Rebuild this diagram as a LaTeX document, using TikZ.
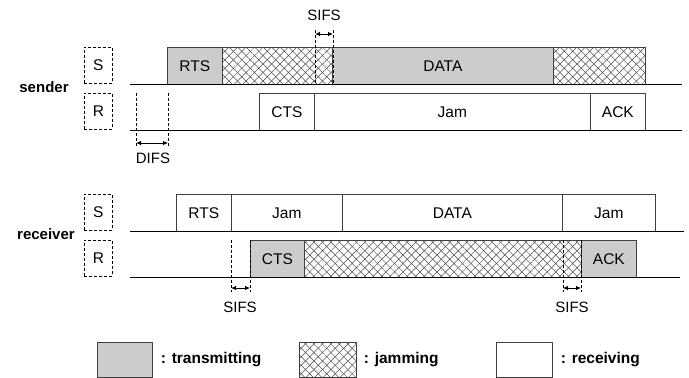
\documentclass[tikz,border=0pt]{standalone}
\usepackage{fontspec}
\setmainfont{Liberation Sans}
\usetikzlibrary{positioning, arrows.meta, patterns.meta}

\tikzset{
  slot/.style={rectangle, draw=black!75, line width=0.7pt, inner sep=0pt,
    minimum height=37pt, anchor=north west, font=\fontsize{15.5}{18}\selectfont},
  txslot/.style={slot, fill=black!20},
  rxslot/.style={slot, fill=white},
  jamslot/.style={slot,
    pattern={Lines[angle=45,distance=6pt,line width=0.5pt]}, pattern color=black!70,
    postaction={pattern={Lines[angle=-45,distance=6pt,line width=0.5pt]}, pattern color=black!70}},
  stationtag/.style={rectangle, draw, densely dashed, line width=0.8pt, inner sep=0pt,
    minimum width=28pt, minimum height=36pt, anchor=north west, font=\fontsize{15.5}{18}\selectfont},
  rolelabel/.style={font=\fontsize{15}{18}\selectfont\bfseries},
  gaplabel/.style={font=\fontsize{15}{17}\selectfont, inner sep=0pt},
  gapline/.style={densely dashed, line width=0.8pt},
  gapspan/.style={{Latex[length=5pt,width=4.5pt]}-{Latex[length=5pt,width=4.5pt]}, line width=0.8pt},
  timeline/.style={line width=0.8pt},
  keylabel/.style={font=\fontsize{15.5}{18}\selectfont\bfseries, inner sep=0pt}
}

\begin{document}
\begin{tikzpicture}[x=1pt, y=-1pt]
    \useasboundingbox (0,0) rectangle (689,378);

    % sender
    \node (sender) at (44,87) [rolelabel] {sender};
    \node (sendS) at (84,47) [stationtag] {S};
    \node (sendR) at (84,93) [stationtag] {R};

    \node (srts)  at (167,47) [txslot, minimum width=55pt] {RTS};
    \node (sjam1) at (222,47) [jamslot, minimum width=110pt] {};
    \node (sdata) at (332,47) [txslot, minimum width=221pt] {DATA};
    \node (sjam2) at (553,47) [jamslot, minimum width=92pt] {};

    \node (scts) at (259,93) [rxslot, minimum width=55pt] {CTS};
    \node (sjam) at (314,93) [rxslot, minimum width=276pt] {Jam};
    \node (sack) at (590,93) [rxslot, minimum width=55pt] {ACK};

    \draw[timeline] (130,84) -- (682,84);
    \draw[timeline] (130,130) -- (682,130);

    % SIFS at the sender
    \draw[gapline] (315,30) -- (315,84);
    \draw[gapline] (333,30) -- (333,84);
    \coordinate (ssifsA) at (315,34);
    \coordinate (ssifsB) at (333,34);
    \draw[gapspan] (ssifsA) -- (ssifsB);
    \node (ssifs) at (324,15) [gaplabel] {SIFS};

    % DIFS
    \draw[gapline] (136,93) -- (136,147);
    \draw[gapline] (168,93) -- (168,147);
    \coordinate (difsA) at (136,143);
    \coordinate (difsB) at (168,143);
    \draw[gapspan] (difsA) -- (difsB);
    \node (difs) at (153,158) [gaplabel] {DIFS};

    % receiver
    \node (receiver) at (46,234) [rolelabel] {receiver};
    \node (recvS) at (84,194) [stationtag] {S};
    \node (recvR) at (84,240) [stationtag] {R};

    \node (rrts)  at (176,194) [rxslot, minimum width=55pt] {RTS};
    \node (rjam1) at (231,194) [rxslot, minimum width=111pt] {Jam};
    \node (rdata) at (342,194) [rxslot, minimum width=220pt] {DATA};
    \node (rjam2) at (562,194) [rxslot, minimum width=93pt] {Jam};

    \node (rcts) at (250,240) [txslot, minimum width=54pt] {CTS};
    \node (rjam) at (304,240) [jamslot, minimum width=277pt] {};
    \node (rack) at (581,240) [txslot, minimum width=55pt] {ACK};

    \draw[timeline] (130,231) -- (684,231);
    \draw[timeline] (130,277) -- (680,277);

    % SIFS at the receiver
    \draw[gapline] (231,240) -- (231,292);
    \draw[gapline] (250,240) -- (250,292);
    \coordinate (rsifsA) at (231,288);
    \coordinate (rsifsB) at (250,288);
    \draw[gapspan] (rsifsA) -- (rsifsB);
    \node (rsifs) at (240,307) [gaplabel] {SIFS};

    \draw[gapline] (563,240) -- (563,292);
    \draw[gapline] (581,240) -- (581,292);
    \coordinate (rsifsC) at (563,288);
    \coordinate (rsifsD) at (581,288);
    \draw[gapspan] (rsifsC) -- (rsifsD);
    \node (rsifs2) at (572,307) [gaplabel] {SIFS};

    % legend
    \node (ltx)  at (97,342)  [txslot, minimum width=55pt, minimum height=35pt] {};
    \node (ltxt) [keylabel, right=8pt of ltx] {: transmitting};
    \node (ljam) at (299,342) [jamslot, minimum width=57pt, minimum height=35pt] {};
    \node (ljamt) [keylabel, right=7pt of ljam] {: jamming};
    \node (lrx)  at (496,342) [rxslot, minimum width=56pt, minimum height=35pt] {};
    \node (lrxt) [keylabel, right=8pt of lrx] {: receiving};
\end{tikzpicture}
\end{document}
